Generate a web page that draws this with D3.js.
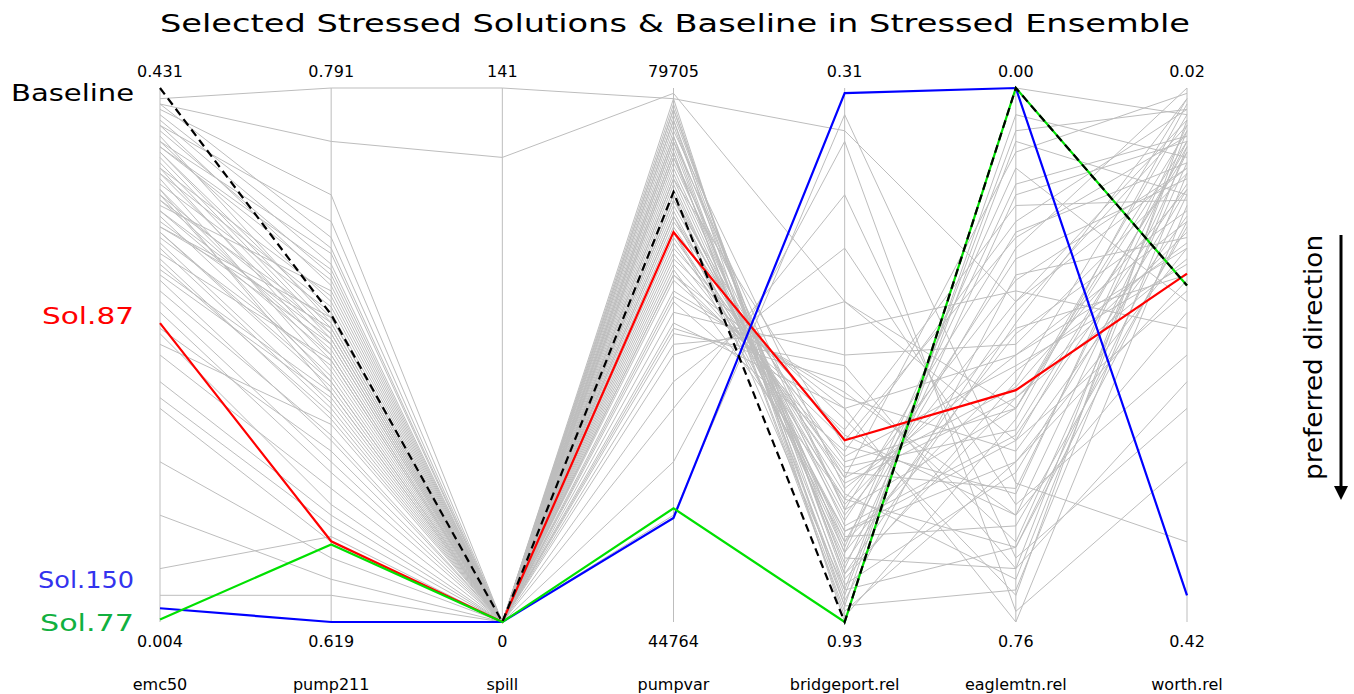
<!DOCTYPE html>
<html><head><meta charset="utf-8">
<script src="https://cdn.jsdelivr.net/npm/d3@7"></script>
<style>body{margin:0;background:#fff}</style></head>
<body><div class="canvas"></div>
<script>
const axes = ['emc50','pump211','spill','pumpvar','bridgeport.rel','eaglemtn.rel','worth.rel'];
const topLabels = ['0.431','0.791','141','79705','0.31','0.00','0.02'];
const bottomLabels = ['0.004','0.619','0','44764','0.93','0.76','0.42'];
const topVals = [0.431, 0.791, 141, 79705, 0.31, 0.00, 0.02];
const bottomVals = [0.004, 0.619, 0, 44764, 0.93, 0.76, 0.42];

// highlighted solutions in axis units
const baseline = [0.431, 0.718, 0, 72892, 0.93, 0.00, 0.168];
const sol87 = [0.243, 0.645, 0, 70271, 0.719, 0.43, 0.159];
const sol150 = [0.015, 0.619, 0, 51577, 0.316, 0.00, 0.40];
const sol77 = [0.006, 0.644, 0, 52206, 0.93, 0.00, 0.168];

// ensemble members, position along each axis (0 = top, 1 = bottom)
const ensemble = [
  [0.05,0.30,1,0.02,1.00,0.00,0.05],[0.08,0.35,1,0.10,0.95,0.10,0.20],
  [0.10,0.40,1,0.05,0.90,0.20,0.10],[0.12,0.45,1,0.15,0.85,0.30,0.00],
  [0.15,0.50,1,0.20,0.80,0.40,0.15],[0.18,0.42,1,0.08,0.75,0.50,0.25],
  [0.20,0.55,1,0.25,0.70,0.60,0.05],[0.22,0.38,1,0.12,0.98,0.70,0.30],
  [0.25,0.48,1,0.30,0.65,0.80,0.12],[0.28,0.52,1,0.18,0.88,0.90,0.08],
  [0.30,0.60,1,0.35,0.60,1.00,0.22],[0.06,0.33,1,0.04,0.92,0.55,0.02],
  [0.09,0.44,1,0.22,0.78,0.45,0.35],[0.13,0.46,1,0.14,0.82,0.65,0.18],
  [0.16,0.41,1,0.28,0.72,0.75,0.10],[0.19,0.57,1,0.09,0.96,0.35,0.28],
  [0.23,0.50,1,0.40,0.68,0.25,0.04],[0.26,0.43,1,0.16,0.86,0.15,0.40],
  [0.32,0.62,1,0.45,0.55,0.85,0.14],[0.35,0.58,1,0.32,0.62,0.95,0.06],
  [0.38,0.65,1,0.38,0.58,0.68,0.24],[0.40,0.70,1,0.26,0.74,0.58,0.32],
  [0.45,0.68,1,0.42,0.50,0.48,0.16],[0.50,0.75,1,0.48,0.45,0.38,0.45],
  [0.55,0.80,1,0.35,0.66,0.28,0.09],[0.07,0.25,1,0.06,0.99,0.62,0.03],
  [0.11,0.36,1,0.11,0.93,0.72,0.19],[0.14,0.47,1,0.19,0.84,0.82,0.26],
  [0.17,0.53,1,0.24,0.76,0.92,0.11],[0.21,0.49,1,0.13,0.89,0.42,0.07],
  [0.24,0.54,1,0.33,0.69,0.52,0.33],[0.27,0.56,1,0.21,0.81,0.32,0.17],
  [0.29,0.59,1,0.36,0.64,0.22,0.21],[0.33,0.61,1,0.29,0.73,0.12,0.01],
  [0.04,0.20,1,0.03,0.97,0.05,0.13],[0.60,0.85,1,0.50,0.40,0.66,0.38],
  [0.70,0.88,1,0.55,0.30,0.78,0.50],[0.80,0.92,1,0.60,0.20,0.88,0.60],
  [0.90,0.84,1,0.70,0.10,0.98,0.70],[0.95,0.95,1,0.80,0.05,0.74,0.85],
  [0.02,0.00,0,0.02,0.08,0.40,0.06],[0.03,0.10,0.13,0.01,0.40,0.60,0.10],
  [0.36,0.66,1,0.44,0.60,0.50,0.30],[0.42,0.72,1,0.20,0.94,0.86,0.20],
  [0.48,0.63,1,0.31,0.71,0.64,0.12],[0.10,0.31,1,0.07,0.91,0.58,0.27],
  [0.20,0.46,1,0.17,0.87,0.46,0.23],[0.31,0.51,1,0.27,0.77,0.36,0.15],
  [0.15,0.39,1,0.23,0.83,0.70,0.36],[0.26,0.45,1,0.10,0.79,0.60,0.08],
  [0.46,0.78,1,0.39,0.57,0.80,0.42],[0.58,0.82,1,0.46,0.52,0.90,0.55],
  [0.03,0.28,1,0.04,0.94,0.08,0.04],[0.07,0.37,1,0.09,0.87,0.18,0.09],
  [0.12,0.43,1,0.13,0.79,0.27,0.14],[0.16,0.48,1,0.06,0.91,0.44,0.02],
  [0.19,0.51,1,0.21,0.73,0.56,0.19],[0.23,0.47,1,0.27,0.83,0.66,0.11],
  [0.27,0.55,1,0.17,0.67,0.76,0.07],[0.34,0.57,1,0.34,0.77,0.86,0.25],
  [0.11,0.34,1,0.12,0.97,0.94,0.16],[0.21,0.44,1,0.24,0.85,0.53,0.29]
];

const W = 1354, H = 694, y0 = 88, y1 = 622;
const svg = d3.select('.canvas').append('svg').attr('width', W).attr('height', H)
  .style('font-family', 'DejaVu Sans, Arial, sans-serif');

const x = d3.scalePoint().domain(axes).range([160, 1187]);
const ys = axes.map((a, i) => d3.scaleLinear().domain([topVals[i], bottomVals[i]]).range([y0, y1]));
const yn = d3.scaleLinear().domain([0, 1]).range([y0, y1]);

const line = d3.line();

svg.selectAll('.ens').data(ensemble).join('path')
  .attr('d', r => line(r.map((v, i) => [x(axes[i]), yn(v)])))
  .attr('fill', 'none').attr('stroke', '#bdbdbd').attr('stroke-width', 1);

svg.selectAll('.axis').data(axes).join('line')
  .attr('x1', d => x(d)).attr('x2', d => x(d)).attr('y1', y0).attr('y2', y1)
  .attr('stroke', '#bdbdbd');

const sols = [
  {v: sol87, c: '#ff0000', dash: null},
  {v: sol150, c: '#0000ff', dash: null},
  {v: sol77, c: '#00e000', dash: null},
  {v: baseline, c: '#000', dash: '8,5'}
];
sols.forEach(s => {
  svg.append('path')
    .attr('d', line(s.v.map((v, i) => [x(axes[i]), ys[i](v)])))
    .attr('fill', 'none').attr('stroke', s.c).attr('stroke-width', 2.2)
    .attr('stroke-dasharray', s.dash);
});

svg.selectAll('.tl').data(topLabels).join('text')
  .attr('x', (d, i) => x(axes[i])).attr('y', 77).attr('text-anchor', 'middle')
  .attr('font-size', 16).text(d => d);
svg.selectAll('.bl').data(bottomLabels).join('text')
  .attr('x', (d, i) => x(axes[i])).attr('y', 647).attr('text-anchor', 'middle')
  .attr('font-size', 16).text(d => d);
svg.selectAll('.an').data(axes).join('text')
  .attr('x', d => x(d)).attr('y', 690).attr('text-anchor', 'middle')
  .attr('font-size', 16).text(d => d);

svg.append('text').attr('x', 160).attr('y', 32)
  .attr('font-size', 25).attr('textLength', 1030).attr('lengthAdjust', 'spacingAndGlyphs')
  .text('Selected Stressed Solutions & Baseline in Stressed Ensemble');

const labels = [
  {t: 'Baseline', y: 101, c: '#000', w: 123},
  {t: 'Sol.87', y: 324, c: '#ff0000', w: 92},
  {t: 'Sol.150', y: 588, c: '#3333ee', w: 96},
  {t: 'Sol.77', y: 631, c: '#11b040', w: 94}
];
svg.selectAll('.lab').data(labels).join('text')
  .attr('x', 134).attr('y', d => d.y).attr('text-anchor', 'end')
  .attr('font-size', 23).attr('fill', d => d.c)
  .attr('textLength', d => d.w).attr('lengthAdjust', 'spacingAndGlyphs').text(d => d.t);

svg.append('text').attr('transform', 'translate(1322,235) rotate(-90)')
  .attr('text-anchor', 'end').attr('font-size', 25)
  .attr('textLength', 245).attr('lengthAdjust', 'spacingAndGlyphs').text('preferred  direction');
svg.append('line').attr('x1', 1341).attr('x2', 1341).attr('y1', 235).attr('y2', 488)
  .attr('stroke', '#000').attr('stroke-width', 3);
svg.append('path').attr('d', 'M1334,486 L1348,486 L1341,500 Z').attr('fill', '#000');
</script></body></html>
